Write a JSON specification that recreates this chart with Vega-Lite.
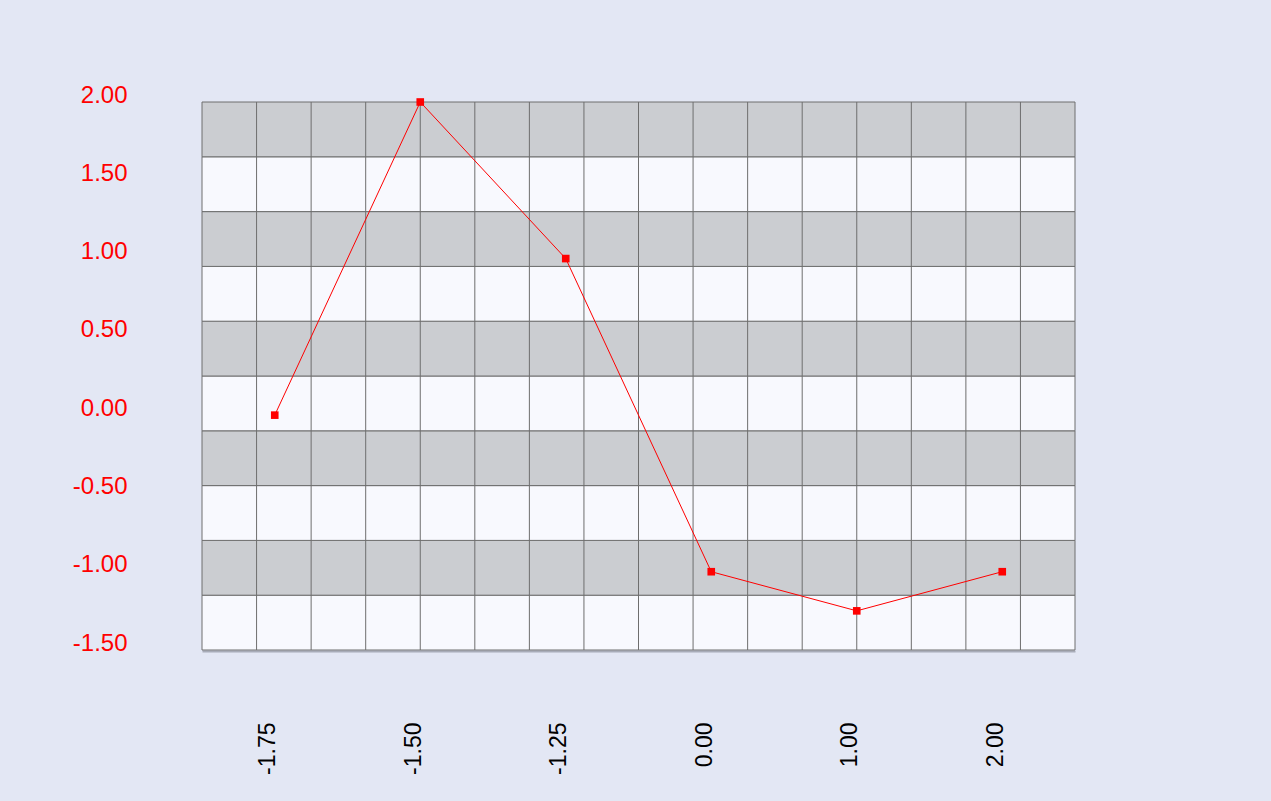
{
  "$schema": "https://vega.github.io/schema/vega-lite/v6.json",
  "width": 873,
  "height": 548,
  "autosize": {"type": "none"},
  "padding": {"left": 202, "top": 102, "right": 196, "bottom": 151},
  "background": "#e3e7f4",
  "config": {
    "view": {"stroke": null},
    "font": "Liberation Sans"
  },
  "datasets": {
    "bands": [
      {"lo": -1.5, "hi": -1.15, "kind": "light"},
      {"lo": -1.15, "hi": -0.8, "kind": "dark"},
      {"lo": -0.8, "hi": -0.45, "kind": "light"},
      {"lo": -0.45, "hi": -0.1, "kind": "dark"},
      {"lo": -0.1, "hi": 0.25, "kind": "light"},
      {"lo": 0.25, "hi": 0.6, "kind": "dark"},
      {"lo": 0.6, "hi": 0.95, "kind": "light"},
      {"lo": 0.95, "hi": 1.3, "kind": "dark"},
      {"lo": 1.3, "hi": 1.65, "kind": "light"},
      {"lo": 1.65, "hi": 2.0, "kind": "dark"}
    ],
    "cols": [
      {"gx": 1}, {"gx": 2}, {"gx": 3}, {"gx": 4}, {"gx": 5},
      {"gx": 6}, {"gx": 7}, {"gx": 8}, {"gx": 9}, {"gx": 10},
      {"gx": 11}, {"gx": 12}, {"gx": 13}, {"gx": 14}, {"gx": 15}
    ],
    "series": [
      {"x": "-1.75", "y": 0},
      {"x": "-1.50", "y": 2},
      {"x": "-1.25", "y": 1},
      {"x": "0.00", "y": -1},
      {"x": "1.00", "y": -1.25},
      {"x": "2.00", "y": -1}
    ]
  },
  "layer": [
    {
      "data": {"name": "bands"},
      "mark": {"type": "rect", "stroke": "#6e6e6e", "strokeWidth": 1},
      "encoding": {
        "y": {
          "field": "lo", "type": "quantitative",
          "scale": {"domain": [-1.5, 2], "nice": false, "zero": false},
          "axis": {
            "title": null,
            "values": [-1.5, -1, -0.5, 0, 0.5, 1, 1.5, 2],
            "labelExpr": "replace(format(datum.value, '.2f'), '\u2212', '-')",
            "grid": false, "domain": false, "ticks": false,
            "labelColor": "#ff0000", "labelFontSize": 24,
            "labelBaseline": "alphabetic", "labelPadding": 75
          }
        },
        "y2": {"field": "hi"},
        "fill": {
          "field": "kind", "type": "nominal",
          "scale": {"domain": ["dark", "light"], "range": ["#cbcdd1", "#f8f9fe"]},
          "legend": null
        }
      }
    },
    {
      "data": {"name": "cols"},
      "mark": {"type": "rule", "stroke": "#6e6e6e", "strokeWidth": 1},
      "encoding": {
        "x": {
          "field": "gx", "type": "quantitative",
          "scale": {"domain": [0, 16], "nice": false},
          "axis": null
        }
      }
    },
    {
      "data": {"name": "series"},
      "mark": {
        "type": "line", "color": "#ff0000", "strokeWidth": 1,
        "point": {"shape": "square", "size": 58, "filled": true, "color": "#ff0000", "opacity": 1}
      },
      "encoding": {
        "x": {
          "field": "x", "type": "ordinal", "sort": null,
          "axis": {
            "title": null,
            "labelAngle": -90, "labelAlign": "right", "labelBaseline": "alphabetic",
            "labelColor": "#000000", "labelFontSize": 23, "labelPadding": 71,
            "ticks": false, "grid": false,
            "domainColor": "#a8acb8", "domainWidth": 2, "offset": 1
          }
        },
        "y": {
          "field": "y", "type": "quantitative",
          "scale": {"domain": [-1.5, 2], "nice": false, "zero": false},
          "axis": {
            "title": null,
            "values": [-1.5, -1, -0.5, 0, 0.5, 1, 1.5, 2],
            "labelExpr": "replace(format(datum.value, '.2f'), '\u2212', '-')",
            "grid": false, "domain": false, "ticks": false,
            "labelColor": "#ff0000", "labelFontSize": 24,
            "labelBaseline": "alphabetic", "labelPadding": 75
          }
        }
      }
    }
  ],
  "resolve": {"scale": {"x": "independent"}, "axis": {"x": "independent"}}
}
